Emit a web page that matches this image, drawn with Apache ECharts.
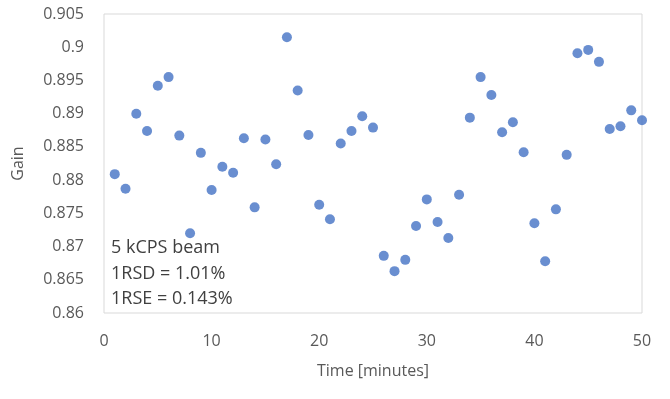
<!DOCTYPE html>
<html>
<head>
<meta charset="utf-8">
<script src="https://cdn.jsdelivr.net/npm/echarts@6/dist/echarts.min.js"></script>
<style>
  html, body { margin: 0; padding: 0; background: #fff; }
  #chart { width: 670px; height: 399px; }
</style>
</head>
<body>
<div id="chart"></div>
<script>
const minutes = [1, 2, 3, 4, 5, 6, 7, 8, 9, 10, 11, 12, 13, 14, 15, 16, 17, 18, 19, 20, 21, 22, 23, 24, 25,
  26, 27, 28, 29, 30, 31, 32, 33, 34, 35, 36, 37, 38, 39, 40, 41, 42, 43, 44, 45, 46, 47, 48, 49, 50];
const gain = [0.8809, 0.8787, 0.8900, 0.8874, 0.8942, 0.8955, 0.8867, 0.8720, 0.8841, 0.8785,
  0.8820, 0.8811, 0.8863, 0.8759, 0.8861, 0.8824, 0.9015, 0.8935, 0.8868, 0.8763,
  0.8741, 0.8855, 0.8874, 0.8896, 0.8879, 0.8686, 0.8663, 0.8680, 0.8731, 0.8771,
  0.8737, 0.8713, 0.8778, 0.8894, 0.8955, 0.8928, 0.8872, 0.8887, 0.8842, 0.8735,
  0.8678, 0.8756, 0.8838, 0.8991, 0.8996, 0.8978, 0.8877, 0.8881, 0.8905, 0.8890];
const notes = ['5 kCPS beam', '1RSD = 1.01%', '1RSE = 0.143%'];

const labelColor = '#595959';
const font = '"Open Sans", "Noto Sans", sans-serif';

const chart = echarts.init(document.getElementById('chart'));
chart.setOption({
  animation: false,
  grid: {
    left: 104, right: 28, top: 14, bottom: 86,
    show: true, borderColor: '#d9d9d9', borderWidth: 1
  },
  xAxis: {
    type: 'value',
    min: 0, max: 50, interval: 10,
    name: 'Time [minutes]',
    nameLocation: 'middle',
    nameGap: 50,
    nameTextStyle: { color: labelColor, fontSize: 16, fontFamily: font },
    axisLine: { show: false },
    axisTick: { show: false },
    splitLine: { show: false },
    axisLabel: { color: labelColor, fontSize: 16, fontFamily: font, margin: 20 }
  },
  yAxis: {
    type: 'value',
    min: 0.86, max: 0.905, interval: 0.005,
    name: 'Gain',
    nameLocation: 'middle',
    nameGap: 78,
    nameTextStyle: { color: labelColor, fontSize: 16, fontFamily: font },
    axisLine: { show: false },
    axisTick: { show: false },
    splitLine: { show: false },
    axisLabel: {
      color: labelColor, fontSize: 16, fontFamily: font, margin: 20,
      formatter: v => String(Number(v.toFixed(3)))
    }
  },
  graphic: notes.map((t, i) => ({
    type: 'text',
    left: 111,
    top: 239 + i * 25.5,
    style: { text: t, fill: '#404040', fontSize: 18, fontFamily: font }
  })),
  series: [{
    type: 'scatter',
    symbol: 'circle',
    symbolSize: 10,
    itemStyle: { color: '#4472c4' },
    data: minutes.map((m, i) => [m, gain[i]])
  }]
});
</script>
</body>
</html>
